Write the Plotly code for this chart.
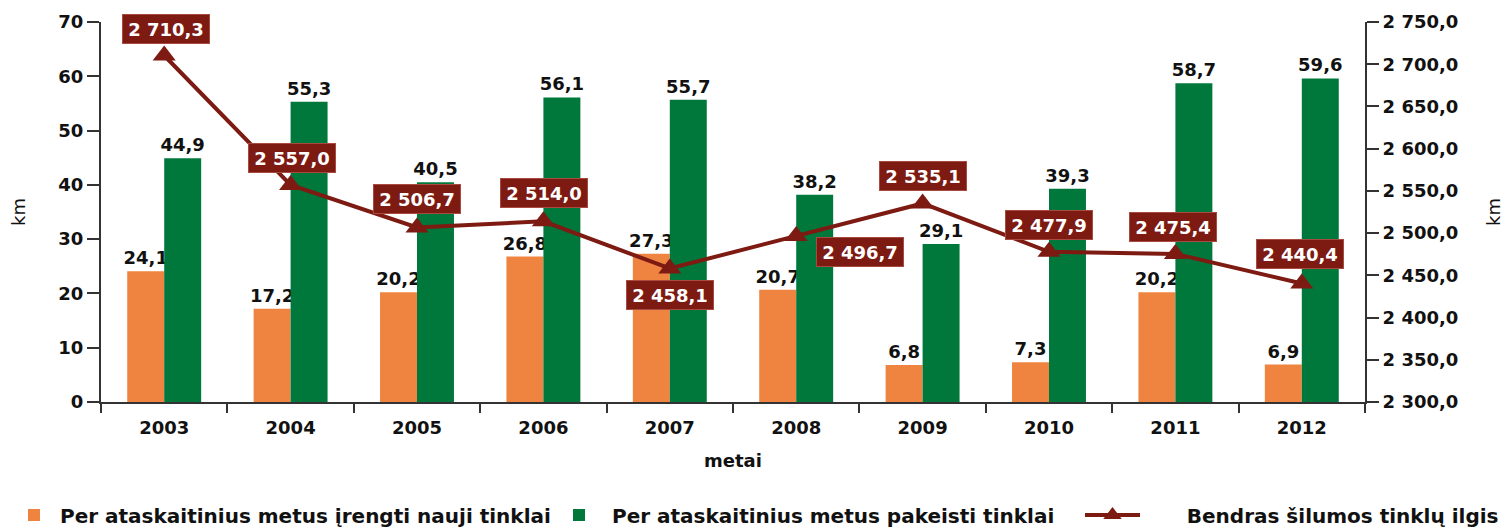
import plotly.graph_objects as go

years = [2003, 2004, 2005, 2006, 2007, 2008, 2009, 2010, 2011, 2012]
year_labels = ["2003", "2004", "2005", "2006", "2007", "2008", "2009", "2010", "2011", "2012"]
new_networks = [24.1, 17.2, 20.2, 26.8, 27.3, 20.7, 6.8, 7.3, 20.2, 6.9]
replaced_networks = [44.9, 55.3, 40.5, 56.1, 55.7, 38.2, 29.1, 39.3, 58.7, 59.6]
total_length = [2710.3, 2557.0, 2506.7, 2514.0, 2458.1, 2496.7, 2535.1, 2477.9, 2475.4, 2440.4]

# label offsets (pixels) for the line value boxes
label_dx = [2, 1, 0, 1, 0, 64, 0, 0, -2, -2]
label_dy = [27, 27, 28, 28, -27, -16, 27, 27, 27, 29]

ORANGE = "#EE8440"
GREEN = "#00783C"
DARKRED = "#7D1A12"
FONT = "DejaVu Sans, Verdana, sans-serif"
TXT = "#111111"
NB = "\u00a0"

def fmt(v):
    s = f"{v:,.1f}"
    return s.replace(",", " ").replace(".", ",")

fig = go.Figure()
fig.add_trace(go.Bar(
    x=years, y=new_networks, name="<b>Per ataskaitinius metus įrengti nauji tinklai</b>",
    marker=dict(color=ORANGE, line=dict(width=0)),
    text=[f"<b>{fmt(v)}</b>" for v in new_networks], textposition="outside",
    textfont=dict(family=FONT, size=18, color=TXT), constraintext="none",
    cliponaxis=False, legend="legend",
))
fig.add_trace(go.Bar(
    x=years, y=replaced_networks, name="<b>Per ataskaitinius metus pakeisti tinklai</b>",
    marker=dict(color=GREEN, line=dict(width=0)),
    text=[f"<b>{fmt(v)}</b>" for v in replaced_networks], textposition="outside",
    textfont=dict(family=FONT, size=18, color=TXT), constraintext="none",
    cliponaxis=False, legend="legend2",
))
fig.add_trace(go.Scatter(
    x=years, y=total_length, name=f"<b>{NB * 6}Bendras šilumos tinklų ilgis</b>", yaxis="y2",
    mode="lines+markers",
    line=dict(color=DARKRED, width=4),
    marker=dict(symbol="triangle-up", size=20, color=DARKRED),
    cliponaxis=False, legend="legend3",
))

for yr, v, dx, dy in zip(years, total_length, label_dx, label_dy):
    fig.add_annotation(
        x=yr, y=v, xref="x", yref="y2", text=f"<b>{fmt(v)}</b>",
        showarrow=False, xshift=dx, yshift=dy, width=78, height=20,
        font=dict(family=FONT, size=18, color="white"),
        bgcolor=DARKRED, bordercolor="#A84A40", borderwidth=1, borderpad=4,
    )

axis_font = dict(family=FONT, size=18, color=TXT)
leg_font = dict(family=FONT, size=20, color=TXT)
leg_common = dict(orientation="h", xref="container", yref="container", yanchor="middle",
                  xanchor="left", font=leg_font, bgcolor="rgba(0,0,0,0)")

W, H = 1502, 519
fig.update_layout(
    width=W, height=H,
    margin=dict(l=93, r=145, t=14, b=125, autoexpand=False),
    paper_bgcolor="white", plot_bgcolor="white",
    separators=", ",
    barmode="group", bargap=0.415, bargroupgap=0,
    font=dict(family=FONT, color=TXT),
    showlegend=True,
    legend=dict(x=0, y=12 / H, itemwidth=42, **leg_common),
    legend2=dict(x=538 / W, y=12 / H, itemwidth=56, **leg_common),
    legend3=dict(x=1072 / W, y=12 / H, itemwidth=55, **leg_common),
    xaxis=dict(
        range=[2002.5, 2012.5], tickvals=years, ticktext=[f"<b>{t}</b>" for t in year_labels],
        showline=True, linecolor="#333333", linewidth=2,
        ticks="", tickfont=axis_font, showgrid=False, zeroline=False, ticklabelstandoff=8,
        minor=dict(tick0=2002.5, dtick=1, ticks="outside", ticklen=9, tickwidth=2, tickcolor="#333333", showgrid=False),
        title=dict(text="<b>metai</b>", font=dict(family=FONT, size=18, color=TXT), standoff=18),
    ),
    yaxis=dict(
        range=[0, 70], dtick=10, showline=True, linecolor="#333333", linewidth=2,
        ticks="outside", ticklen=12, tickwidth=2, tickcolor="#333333",
        tickfont=axis_font, showgrid=False, zeroline=False,
        tickprefix="<b>", ticksuffix="</b>",
        title=dict(text="km", font=dict(family=FONT, size=18, color=TXT), standoff=36),
    ),
    yaxis2=dict(
        range=[2300, 2750], dtick=50, overlaying="y", side="right",
        showline=True, linecolor="#333333", linewidth=2,
        ticks="outside", ticklen=12, tickwidth=2, tickcolor="#333333",
        tickformat=",.1f", tickfont=axis_font, showgrid=False, zeroline=False,
        tickprefix="<b>", ticksuffix="</b>",
        title=dict(text="km", font=dict(family=FONT, size=18, color=TXT), standoff=30),
    ),
)

fig.write_html("out.html")
